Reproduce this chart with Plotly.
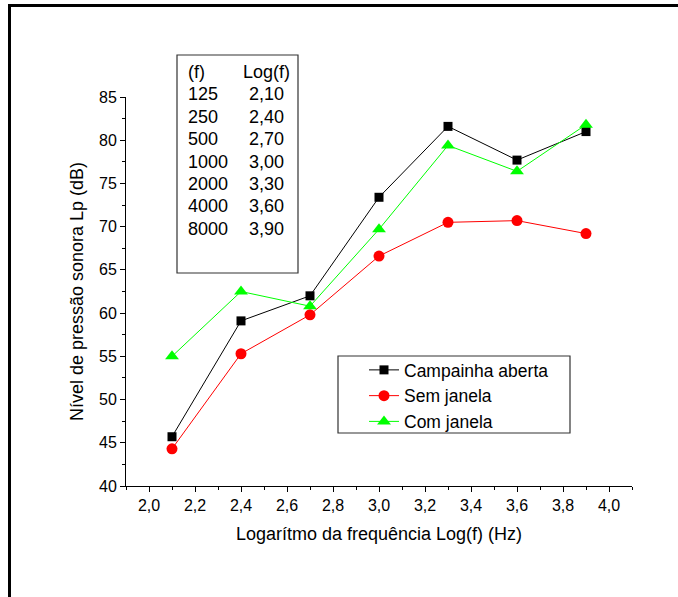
import plotly.graph_objects as go

# ---- data ----
log_f = [2.1, 2.4, 2.7, 3.0, 3.3, 3.6, 3.9]
campainha_aberta = [45.7, 59.1, 62.0, 73.4, 81.6, 77.7, 81.0]
sem_janela = [44.3, 55.3, 59.8, 66.6, 70.5, 70.7, 69.2]
com_janela = [55.0, 62.5, 60.8, 69.7, 79.4, 76.4, 81.8]

table_freq = ["125", "250", "500", "1000", "2000", "4000", "8000"]
table_log = ["2,10", "2,40", "2,70", "3,00", "3,30", "3,60", "3,90"]

series_names = ["Campainha aberta", "Sem janela", "Com janela"]

W, H = 678, 597
L, R, T, B = 126, 632, 97, 486  # plot area pixel bounds


def px(x):
    return (x - L) / (R - L)


def py(y):
    return (B - y) / (B - T)


FONT = "Liberation Sans, Arial, sans-serif"
BIG = 18

fig = go.Figure()
fig.add_trace(go.Scatter(x=log_f, y=campainha_aberta, name=series_names[0],
                         mode="lines+markers",
                         line=dict(color="black", width=1),
                         marker=dict(symbol="square", size=9, color="black")))
fig.add_trace(go.Scatter(x=log_f, y=sem_janela, name=series_names[1],
                         mode="lines+markers",
                         line=dict(color="#ff0000", width=1),
                         marker=dict(symbol="circle", size=11, color="#ff0000")))
fig.add_trace(go.Scatter(x=log_f, y=com_janela, name=series_names[2],
                         mode="lines+markers",
                         line=dict(color="#00ff00", width=1),
                         marker=dict(symbol="triangle-up", size=12, color="#00ff00")))

shapes = [
    # outer frame (top and left thick lines)
    dict(type="line", xref="paper", yref="paper", x0=px(8), x1=px(700), y0=py(5.5), y1=py(5.5),
         line=dict(color="black", width=3)),
    dict(type="line", xref="paper", yref="paper", x0=px(9.5), x1=px(9.5), y0=py(4), y1=py(620),
         line=dict(color="black", width=3)),
    # table box
    dict(type="rect", xref="paper", yref="paper", x0=px(177), x1=px(298), y0=py(55), y1=py(273),
         line=dict(color="#333333", width=1.2), fillcolor="white", layer="above"),
    # legend box
    dict(type="rect", xref="paper", yref="paper", x0=px(338), x1=px(570), y0=py(356), y1=py(433),
         line=dict(color="#333333", width=1.2), fillcolor="white", layer="above"),
]

annotations = []
row0 = 72
step = 22.4
annotations.append(dict(text="(f)", x=px(186), y=py(row0), xref="paper", yref="paper",
                        xanchor="left", yanchor="middle", showarrow=False,
                        font=dict(family=FONT, size=BIG, color="black")))
annotations.append(dict(text="Log(f)", x=px(266), y=py(row0), xref="paper", yref="paper",
                        xanchor="center", yanchor="middle", showarrow=False,
                        font=dict(family=FONT, size=BIG, color="black")))
for i, (f, lg) in enumerate(zip(table_freq, table_log)):
    yy = row0 + step * (i + 1)
    annotations.append(dict(text=f, x=px(186), y=py(yy), xref="paper", yref="paper",
                            xanchor="left", yanchor="middle", showarrow=False,
                            font=dict(family=FONT, size=BIG, color="black")))
    annotations.append(dict(text=lg, x=px(266), y=py(yy), xref="paper", yref="paper",
                            xanchor="center", yanchor="middle", showarrow=False,
                            font=dict(family=FONT, size=BIG, color="black")))

fig.update_layout(
    width=W, height=H,
    margin=dict(l=L, r=W - R, t=T, b=H - B),
    paper_bgcolor="white", plot_bgcolor="white",
    separators=",.",
    font=dict(family=FONT, color="black"),
    shapes=shapes,
    annotations=annotations,
    legend=dict(x=px(364), y=py(396), xanchor="left", yanchor="middle",
                bgcolor="rgba(0,0,0,0)", borderwidth=0,
                font=dict(family=FONT, size=17.5, color="black"),
                tracegroupgap=0),
    showlegend=True,
)

fig.update_xaxes(
    range=[1.9, 4.1], dtick=0.2, tick0=2.0, tickformat=".1f",
    showgrid=False, zeroline=False,
    showline=True, linecolor="black", linewidth=1,
    ticks="outside", ticklen=5, tickwidth=1, tickcolor="black",
    minor=dict(dtick=0.1, tick0=1.9, ticks="outside", ticklen=3, tickcolor="black", showgrid=False),
    tickfont=dict(family=FONT, size=16, color="black"),
    title=dict(text="Logarítmo da frequência Log(f) (Hz)", font=dict(family=FONT, size=BIG, color="black"),
               standoff=14),
)
fig.update_yaxes(
    range=[40, 85], dtick=5, tick0=40,
    showgrid=False, zeroline=False,
    showline=True, linecolor="black", linewidth=1,
    ticks="outside", ticklen=5, tickwidth=1, tickcolor="black",
    minor=dict(dtick=2.5, tick0=40, ticks="outside", ticklen=3, tickcolor="black", showgrid=False),
    tickfont=dict(family=FONT, size=16, color="black"),
    title=dict(text="Nível de pressão sonora Lp (dB)", font=dict(family=FONT, size=BIG, color="black"),
               standoff=10),
)

fig.write_html("out.html")
